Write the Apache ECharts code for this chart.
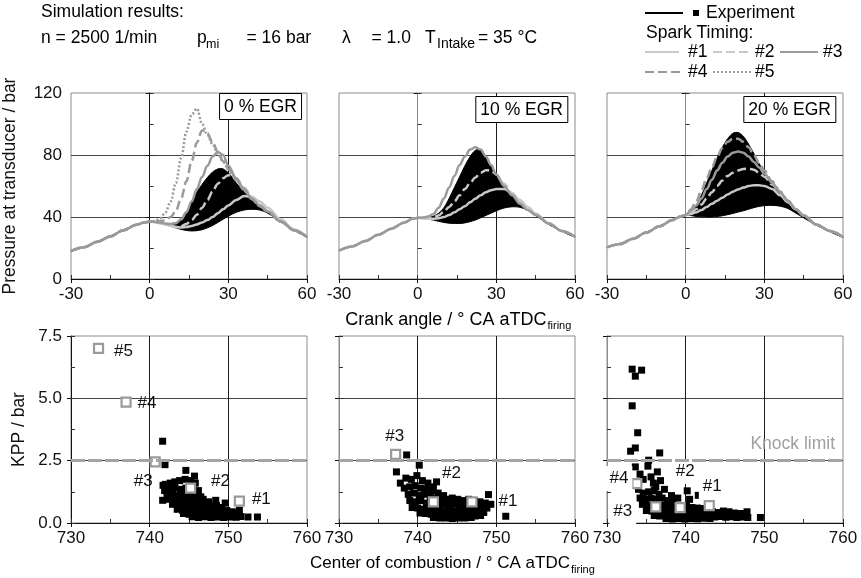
<!DOCTYPE html>
<html><head><meta charset="utf-8">
<script src="https://cdn.jsdelivr.net/npm/echarts@6/dist/echarts.min.js"></script>
<style>html,body{margin:0;padding:0;background:#fff}#c{width:861px;height:578px}</style>
</head><body><div id="c"></div>
<script>
// ---------- DATA ----------
const CA = [-30,-25,-20,-15,-10,-5,-2,0,2,4,6,8,10,12,14,16,18,20,22,24,26,28,30,33,36,39,42,45,50,55,60];

// 0 % EGR
const EGR0_EXP_LOW  = [18,20.5,24,27.5,31.5,35,36.5,37, 36.5,35.8,35,34,33,32,31.3,31,31.2,31.8,33,34.5,36.5,38.5,40.5,43,44.5,45,44.5,42.5,37,31.5,27];
const EGR0_EXP_HIGH = [18.3,20.8,24.3,27.8,31.8,35.3,36.8,37.3, 37,36.4,35.6,35,35.5,38,43,50,56,61,65.5,69,71,71,68.5,62,56,51,47,44,38,32,27.4];
const EGR0_SIM1 = [18,20.5,24,27.5,31.5,35,36.5,37, 36.8,36.2,35.3,34.3,33.5,33.2,33.5,34.2,35.2,36.5,38,40,42.5,45,47.5,51,53.5,53,50,46,38.5,32,27];
const EGR0_SIM2 = [18,20.5,24,27.5,31.5,35,36.5,37, 36.8,36.2,35.3,34.3,33.5,34,35.5,38,41.5,46,51,56.5,61.5,65,67,65,59,53,48,44,37.5,31.5,27];
const EGR0_SIM3 = [18,20.5,24,27.5,31.5,35,36.5,37, 36.8,36.3,35.8,35.5,36,38.5,43,50,58,66,73,79,82,80,73,65,58,52,47.5,43.5,37,31.5,27];
const EGR0_SIM4 = [18,20.5,24,27.5,31.5,35,36.5,37, 37,37.2,38,40,44,52,63,76,88,96,94,88,82,76,71,64,57.5,51.5,47,43.5,37,31.5,27];
const EGR0_SIM5 = [18,20.5,24,27.5,31.5,35,36.5,37, 37.5,39,43,50,62,78,95,106,110,100,93,87,81,75.5,71,64,57.5,51.5,47,43.5,37,31.5,27];

// 10 % EGR
const EGR10_EXP_LOW  = [18.3,21,24.5,28.5,32.5,36.5,38.8,39.5, 39.2,38.6,38,37.2,36.5,36,35.8,35.8,36.2,37,38,39.5,41,42.5,44,45.8,46.6,46.3,44.3,41,35.2,30.7,27];
const EGR10_EXP_HIGH = [18.6,21.3,24.8,28.8,32.8,36.8,39.1,39.8, 39.6,39.8,40.5,42.5,46,52,59,66,73,79,83,83.5,79,72.5,66,59,53.5,48.5,44.5,41.5,35.8,31,27.4];
const EGR10_SIM1 = [18.3,21,24.5,28.5,32.5,36.5,38.8,39.5, 39.2,38.9,38.8,39.2,40,41.3,43,45,47,49.5,51.8,54,56,57.3,58,58,55.5,51,46.5,42.3,36,31,27.3];
const EGR10_SIM2 = [18.3,21,24.5,28.5,32.5,36.5,38.8,39.5, 39.3,39.2,39.8,41,43.5,46.5,50,54,58,62,65.5,68.5,70.2,70,67.5,61.5,55.5,50,45.5,41.6,35.8,31,27.3];
const EGR10_SIM3 = [18.3,21,24.5,28.5,32.5,36.5,38.8,39.5, 39.6,40.3,42,46,52,59,66.5,73.5,79,83.5,85,83.5,79,73.5,67.5,60,54,48.5,44.5,41.3,35.8,31,27.3];

// 20 % EGR
const EGR20_EXP_LOW  = [20.4,22.6,26,30,34,38,40.3,41.3, 40.9,40.4,40.1,40,40,40.3,40.8,41.5,42.3,43.2,44,45,46,46.8,47.3,47.5,47,45.5,42.5,39.5,34.5,30.5,26.8];
const EGR20_EXP_HIGH = [20.7,22.9,26.3,30.3,34.3,38.3,40.6,41.8, 43.5,47.5,54,62,70,78,85,90.5,94,94.5,92,87,81,74.5,69,62.5,56,50,44,40.5,35,31,27.2];
const EGR20_SIM1 = [20.4,22.6,26,30,34,38,40.3,41.3, 42,43,44.5,46.5,48.5,50.5,52.5,54.5,56.3,57.8,59,60,60.5,60.5,60,58,54,49.5,45,41,35,31,27];
const EGR20_SIM2 = [20.4,22.6,26,30,34,38,40.3,41.3, 43,45,48,52,56,60,63.5,66.5,68.5,70,71,71.2,70.5,68.5,66,61,55.5,50,45,41,35,31,27];
const EGR20_SIM3 = [20.4,22.6,26,30,34,38,40.3,41.3, 44,47.5,52,58,64,70,75,79,81.5,82.2,81.5,79,75.5,72,68,62,56,50.5,45,41,35,31,27];
const EGR20_SIM4 = [20.4,22.6,26,30,34,38,40.3,41.3, 45,50,57,65,72,79,84.5,88.5,90.5,90.5,88.5,85,80,75,70,63,56.5,50.5,45,41,35,31,27];

// KPP vs center of combustion – experiment
const KPP0_X = [741.65,741.95,744.6,745.7,748.4,749.6,752.5,753.7,741.65,741.7,751.4,
  742.0,742.6,743.2,743.8,744.5,745.2,745.8, 741.9,742.5,743.2,743.9,744.6,745.5,746.2,
  742.2,742.9,743.6,744.3,745.0,745.8,746.5, 742.3,743.1,743.8,744.5,745.3,746.0,746.8,747.5,
  742.9,743.6,744.3,745.0,745.7,746.4,747.1,747.8,748.5,749.2,
  743.5,744.2,744.9,745.6,746.3,747.0,747.7,748.4,749.1,749.8,750.5,751.2,
  744.3,745.0,745.7,746.4,747.1,747.8,748.5,749.2,749.9,750.6,751.3,
  745.4,746.2,747.0,747.8,748.6,749.4,750.2,751.0,751.6];
const KPP0_Y = [3.28,2.34,2.11,1.88,0.91,0.8,0.24,0.24,0.91,1.51,0.51,
  1.55,1.6,1.65,1.7,1.75,1.7,1.6, 1.3,1.35,1.4,1.35,1.4,1.35,1.3,
  1.1,1.15,1.1,1.15,1.1,1.15,1.05, 0.95,0.9,0.95,0.9,0.95,0.9,0.95,0.85,
  0.75,0.7,0.75,0.7,0.75,0.7,0.72,0.68,0.7,0.62,
  0.55,0.5,0.55,0.5,0.55,0.5,0.52,0.5,0.48,0.5,0.45,0.4,
  0.38,0.35,0.38,0.33,0.36,0.32,0.35,0.3,0.33,0.3,0.32,
  0.25,0.22,0.25,0.22,0.24,0.22,0.24,0.23,0.26];

const KPP10_X = [738.6,740.2,737.3,749.0,751.2,749.3,742.4,
  737.8,738.5,739.2,739.9,740.6,741.3,742.0,
  738.3,739.0,739.7,740.4,741.1,741.8,742.6,743.3,
  738.8,739.5,740.2,740.9,741.6,742.3,743.0,743.7,744.4,745.1,745.8,746.5,747.2,747.9,748.6,
  739.0,739.7,740.4,741.1,741.8,742.5,743.2,743.9,744.6,745.3,746.0,746.7,747.4,748.1,748.8,
  739.3,740.0,740.7,741.4,742.1,742.8,743.5,744.2,744.9,745.6,746.3,747.0,747.7,748.4,
  740.3,741.0,741.7,742.4,743.1,743.8,744.5,745.2,745.9,746.6,747.3,748.0,
  742.0,742.8,743.6,744.4,745.2,746.0,746.8];
const KPP10_Y = [2.73,2.32,2.05,1.14,0.27,0.75,1.65,
  1.6,1.8,1.75,1.9,1.7,1.6,1.45,
  1.4,1.45,1.5,1.4,1.35,1.3,1.2,1.1,
  1.15,1.2,1.1,1.15,1.05,1.0,0.95,0.95,1.0,0.95,0.9,0.95,0.9,0.85,0.8,
  0.9,0.85,0.9,0.8,0.75,0.7,0.75,0.7,0.75,0.7,0.72,0.68,0.7,0.65,0.6,
  0.62,0.6,0.55,0.55,0.5,0.52,0.48,0.5,0.47,0.5,0.46,0.48,0.45,0.42,
  0.4,0.38,0.35,0.33,0.3,0.28,0.3,0.27,0.28,0.25,0.28,0.3,
  0.22,0.2,0.2,0.18,0.2,0.2,0.22];

const KPP20_X = [733.2,734.4,733.6,733.2,733.9,733.6,733.0,736.7,735.3,733.6,735.2,736.4,734.2,740.2,741.6,749.5,
  734.6,735.6,736.8,737.3,738.2,739.0,740.5,
  734.0,734.6,735.3,736.0,736.6,735.9,736.2,
  734.2,734.9,735.6,736.3,737.0,737.7,738.4,
  734.5,735.2,735.9,736.6,737.3,738.0,738.7,739.4,740.1,740.8,741.5,742.2,
  735.0,735.7,736.4,737.1,737.8,738.5,739.2,739.9,740.6,741.3,742.0,742.7,743.4,744.1,744.8,745.5,746.2,747.0,747.8,
  736.0,736.7,737.4,738.1,738.8,739.5,740.2,740.9,741.6,742.3,743.0,743.7,744.4,745.1,745.8,746.5,747.2,747.9,
  737.5,738.3,739.1,739.9,740.7,741.5,742.3,743.1];
const KPP20_Y = [6.17,6.13,5.89,4.7,3.62,3.01,2.88,2.81,2.52,2.25,2.28,2.05,1.96,1.29,1.11,0.22,
  1.75,1.85,1.7,1.35,1.1,1.0,0.95,
  1.35,1.2,1.25,1.3,1.15,1.6,1.45,
  1.0,0.95,1.0,0.95,1.0,0.9,0.85,
  0.75,0.7,0.75,0.7,0.72,0.68,0.7,0.65,0.7,0.62,0.6,0.58,
  0.5,0.48,0.5,0.46,0.5,0.45,0.48,0.45,0.47,0.42,0.45,0.42,0.45,0.42,0.48,0.45,0.4,0.38,0.45,
  0.3,0.28,0.3,0.25,0.28,0.25,0.27,0.24,0.26,0.23,0.26,0.24,0.26,0.23,0.25,0.22,0.24,0.22,
  0.18,0.16,0.18,0.16,0.18,0.17,0.19,0.18];

// simulation points (spark timing #1..#n)
const SIM_NAMES = ['#1','#2','#3','#4','#5'];
const SIM0_X = [751.4,745.2,740.7,737.0,733.5];
const SIM0_Y = [0.88,1.4,2.45,4.85,7.0];
const SIM10_X = [746.9,742.0,737.2];
const SIM10_Y = [0.85,0.85,2.75];
const SIM20_X = [743.0,739.3,736.2,733.8];
const SIM20_Y = [0.7,0.62,0.65,1.58];

const KNOCK_LIMIT = 2.5;
const PANEL_TITLES = ['0 % EGR','10 % EGR','20 % EGR'];

// ---------- LAYOUT / STYLE ----------
const FONT = '"Liberation Sans", Arial, sans-serif';
const LEFTS = [71, 339, 607];
const GW = 236;
const TOP_ROW = {top: 93, height: 186};
const BOT_ROW = {top: 336, height: 187};
const SM = 0.35;
const TICK_FS = 17;
const SIM_STYLES = [
  {color:'#c8c8c8', type:'solid'},
  {color:'#c8c8c8', type:[9,4]},
  {color:'#9a9a9a', type:'solid'},
  {color:'#9a9a9a', type:[9,4]},
  {color:'#9a9a9a', type:[2,2]}
];
const LABEL_OFFSETS = [
  [[22,-2],[30,-7],[-12,19],[21,1],[25,3]],
  [[36,0],[18,-28],[-1,-18]],
  [[3,-19],[5,-36],[-33,5],[-18,-5]]
];

const topData = [
  {low:EGR0_EXP_LOW, high:EGR0_EXP_HIGH, sims:[EGR0_SIM1,EGR0_SIM2,EGR0_SIM3,EGR0_SIM4,EGR0_SIM5]},
  {low:EGR10_EXP_LOW, high:EGR10_EXP_HIGH, sims:[EGR10_SIM1,EGR10_SIM2,EGR10_SIM3]},
  {low:EGR20_EXP_LOW, high:EGR20_EXP_HIGH, sims:[EGR20_SIM1,EGR20_SIM2,EGR20_SIM3,EGR20_SIM4]}
];
const botData = [
  {x:KPP0_X, y:KPP0_Y, sx:SIM0_X, sy:SIM0_Y},
  {x:KPP10_X, y:KPP10_Y, sx:SIM10_X, sy:SIM10_Y},
  {x:KPP20_X, y:KPP20_Y, sx:SIM20_X, sy:SIM20_Y}
];

const grids = [], xAxes = [], yAxes = [], series = [], titles = [];
const labelStyle = {color:'#111', fontSize:TICK_FS, fontFamily:FONT};

for (let r = 0; r < 2; r++) {
  for (let c = 0; c < 3; c++) {
    const row = r === 0 ? TOP_ROW : BOT_ROW;
    grids.push({left:LEFTS[c], width:GW, top:row.top, height:row.height, show:true, borderColor:'#8c8c8c', borderWidth:1, backgroundColor:'transparent'});
  }
}
// main axes 0..5
for (let g = 0; g < 6; g++) {
  const top = g < 3, c = g % 3;
  xAxes.push({
    gridIndex:g, type:'value', position:'bottom',
    min: top ? -30 : 730, max: top ? 60 : 760, interval: top ? 30 : 10,
    axisLine:{show:true, onZero:false, lineStyle:{color:'#111', width:1}},
    axisTick:{show:true, length:4, lineStyle:{color:'#111'}},
    axisLabel:{show:true, margin:7, ...labelStyle},
    splitLine:{show:true, showMinLine:false, showMaxLine:false, lineStyle:{color:'#1a1a1a', width:1}}
  });
  yAxes.push({
    gridIndex:g, type:'value', position:'left',
    min:0, max: top ? 120 : 7.5, interval: top ? 40 : 2.5,
    name: c === 0 ? (top ? 'Pressure at transducer / bar' : 'KPP / bar') : '',
    nameLocation:'middle', nameGap: top ? 52 : 43,
    nameTextStyle:{...labelStyle, fontSize:17.5},
    axisLine:{show:true, lineStyle:{color: c === 0 ? '#111' : '#8c8c8c', width:1}},
    axisTick:{show:true, length:4, lineStyle:{color:'#111'}},
    axisLabel:{show: c === 0, margin:9, ...labelStyle, formatter: top ? (v => String(v)) : (v => v.toFixed(1))},
    splitLine:{show:true, showMinLine:false, showMaxLine:false, lineStyle:{color:'#444', width:1}}
  });
}
// overlay axes for inner minor ticks 6..11
for (let g = 0; g < 6; g++) {
  const top = g < 3;
  xAxes.push({
    gridIndex:g, type:'value', position:'bottom',
    min: top ? -30 : 730, max: top ? 60 : 760, interval: top ? 15 : 5,
    axisLine:{show:false}, axisLabel:{show:false}, splitLine:{show:false},
    axisTick:{show:true, inside:true, length:4, lineStyle:{color:'#333'}}
  });
  yAxes.push({
    gridIndex:g, type:'value', position:'left',
    min:0, max: top ? 120 : 7.5, interval: top ? 20 : 1.25,
    axisLine:{show:false}, axisLabel:{show:false}, splitLine:{show:false},
    axisTick:{show:true, inside:true, length:4, lineStyle:{color:'#333'}}
  });
}

// top panels
topData.forEach((d, p) => {
  // experimental envelope (many cycles) drawn as a filled band between low and high curves
  series.push({type:'custom', coordinateSystem:'cartesian2d', xAxisIndex:p, yAxisIndex:p, data:[[0, 0]], z:2, silent:true,
    renderItem:(params, api) => {
      const upper = CA.map((x, i) => api.coord([x, d.high[i]]));
      const lower = CA.map((x, i) => api.coord([x, d.low[i]])).reverse();
      return {type:'polygon', shape:{points:upper.concat(lower), smooth:0.3},
        style:{fill:'#000', stroke:'#000', lineWidth:1}};
    }});
  d.sims.forEach((arr, k) => {
    series.push({type:'line', xAxisIndex:p, yAxisIndex:p, data:CA.map((x,i)=>[x,arr[i]]),
      smooth:SM, smoothMonotone:'x', symbol:'none', z:3, silent:true,
      lineStyle:{color:SIM_STYLES[k].color, type:SIM_STYLES[k].type, width:2.5}});
  });
  titles.push({text:PANEL_TITLES[p], right: 861 - (LEFTS[p] + GW) + 6 + (p === 0 ? -1 : 1), top: TOP_ROW.top + (p === 0 ? 0 : 3),
    padding:[5,5,4,5], borderColor:'#000', borderWidth:1, backgroundColor:'#fff',
    textStyle:{fontSize:17.5, fontWeight:'normal', color:'#000', fontFamily:FONT}});
});

// bottom panels
botData.forEach((d, p) => {
  const g = 3 + p;
  series.push({type:'line', xAxisIndex:g, yAxisIndex:g, data:[], z:1, silent:true,
    markLine:{silent:true, symbol:'none', animation:false,
      lineStyle:{color:'#a4a4a4', width:3, type:[14,3]},
      label:{show: p === 2, formatter:'Knock limit', position:'insideEndTop', color:'#a0a0a0', fontSize:17.5, fontFamily:FONT, distance:[8,7]},
      data:[{yAxis:KNOCK_LIMIT}]}});
  series.push({type:'scatter', xAxisIndex:g, yAxisIndex:g, data:d.x.map((x,i)=>[x,d.y[i]]),
    symbol:'rect', symbolSize:7, itemStyle:{color:'#000', opacity:1}, z:3, silent:true});
  series.push({type:'scatter', xAxisIndex:g, yAxisIndex:g,
    data:d.sx.map((x,i)=>({value:[x,d.sy[i]], name:SIM_NAMES[i],
      label:{show:true, position:'inside', offset:LABEL_OFFSETS[p][i], formatter:SIM_NAMES[i], ...labelStyle,
        backgroundColor: p === 2 ? '#fff' : 'transparent', padding: p === 2 ? [5,4,3,4] : 0}})),
    symbol:'rect', symbolSize:9, itemStyle:{color:'#fff', borderColor:'#9a9a9a', borderWidth:2.2, opacity:1}, z:4, silent:true});
});

// header, legend, axis titles
const HF = 17.5;
const txt = (x, y, text, size, extra) => ({type:'text', x, y, silent:true,
  style:Object.assign({text, fill:'#000', font: size + 'px ' + FONT, align:'left', verticalAlign:'middle'}, extra || {})});
const ln = (x1, x2, y, color, dash, w) => ({type:'line', silent:true, shape:{x1, y1:y, x2, y2:y},
  style:{stroke:color, lineWidth:w || 2, lineDash: dash || null}});

const graphic = [
  txt(41, 12, 'Simulation results:', HF),
  txt(41, 38, 'n = 2500 1/min', HF),
  txt(197, 38, 'p', HF), txt(206, 45, 'mi', 12.5), txt(246.5, 38, '= 16 bar', HF),
  txt(342, 38, 'λ', HF), txt(371.5, 38, '= 1.0', HF),
  txt(425, 38, 'T', HF), txt(437, 44, 'Intake', 14), txt(478, 38, '= 35 °C', HF),
  ln(645, 683, 13, '#000', null, 2),
  {type:'rect', silent:true, shape:{x:693, y:10, width:6, height:6}, style:{fill:'#000'}},
  txt(706, 13, 'Experiment', HF),
  txt(646, 33, 'Spark Timing:', HF),
  ln(645, 679, 52, SIM_STYLES[0].color, null, 2), txt(688, 52, '#1', HF),
  ln(713, 750, 52, SIM_STYLES[1].color, [9,4], 2), txt(755, 52, '#2', HF),
  ln(780, 818, 52, SIM_STYLES[2].color, null, 2), txt(823, 52, '#3', HF),
  ln(645, 683, 72, SIM_STYLES[3].color, [9,4], 2), txt(688, 72, '#4', HF),
  ln(713, 752, 72, SIM_STYLES[4].color, [2,2], 2), txt(755, 72, '#5', HF),
  txt(546.5, 320, 'Crank angle / ° CA aTDC', 18, {align:'right'}), txt(547.5, 326, 'firing', 11),
  txt(570, 563, 'Center of combustion / ° CA aTDC', 17, {align:'right'}), txt(571, 570, 'firing', 11)
];

const chart = echarts.init(document.getElementById('c'), null, {renderer:'canvas'});
chart.setOption({
  animation:false,
  backgroundColor:'#fff',
  textStyle:{fontFamily:FONT},
  title:titles,
  grid:grids, xAxis:xAxes, yAxis:yAxes,
  series, graphic
});
</script></body></html>
